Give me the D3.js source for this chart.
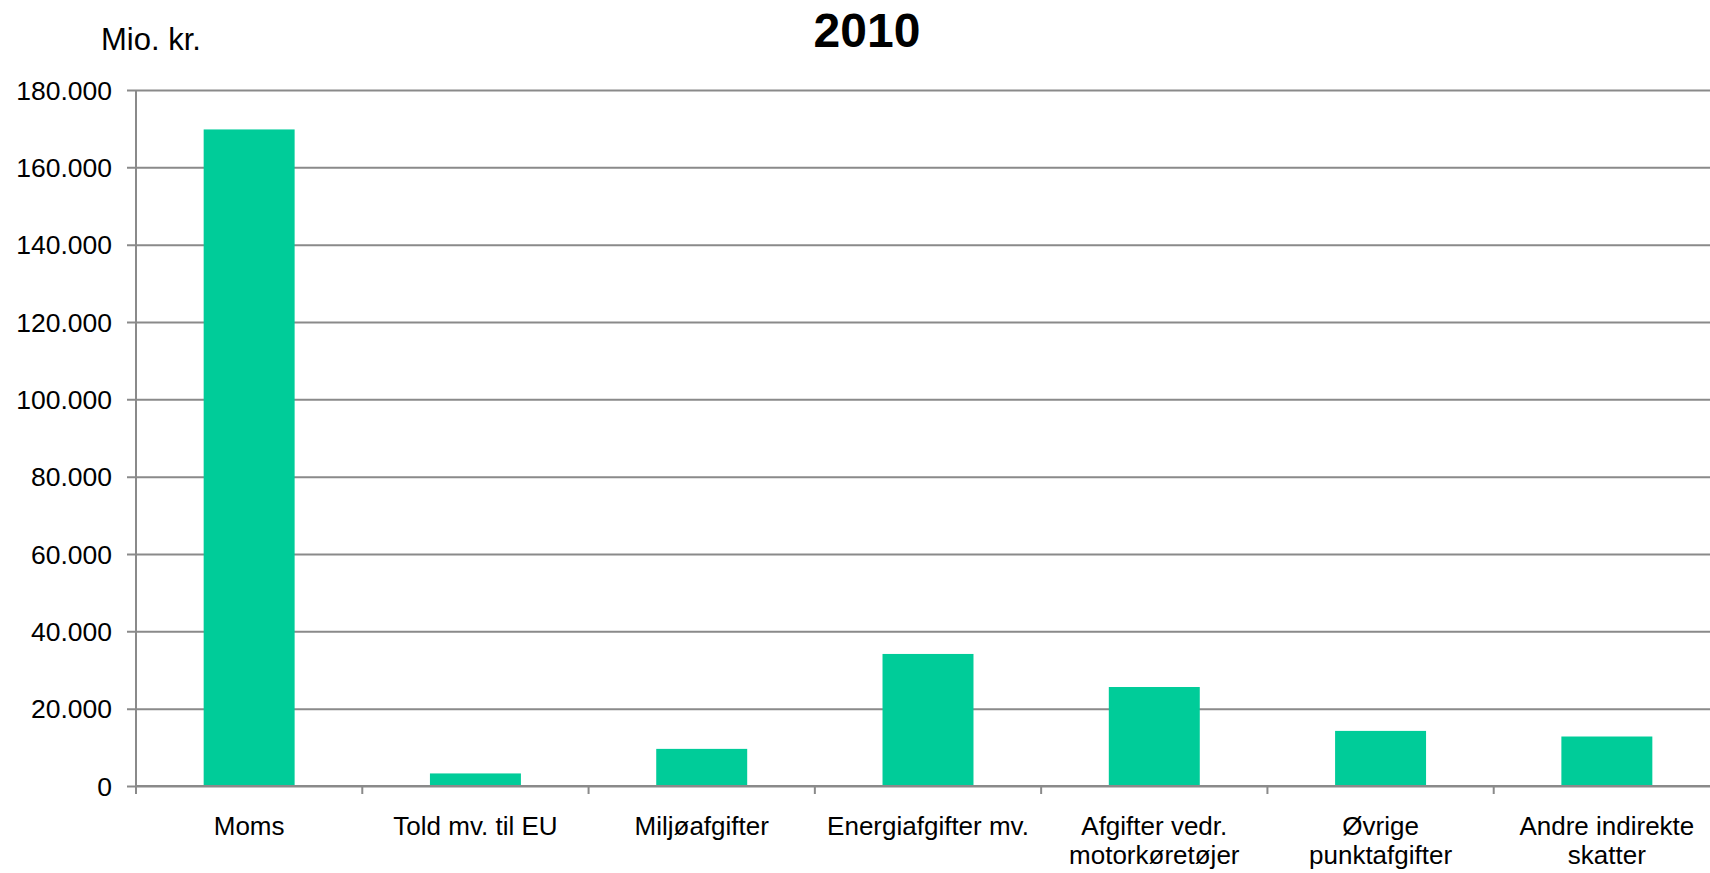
<!DOCTYPE html>
<html>
<head>
<meta charset="utf-8">
<script src="https://cdn.jsdelivr.net/npm/d3@7"></script>
<style>
  html, body { margin: 0; padding: 0; background: #fff; overflow: hidden; }
  svg { display: block; font-family: "Liberation Sans", Arial, sans-serif; }
</style>
</head>
<body>
<svg id="chart" width="1710" height="873"></svg>
<script>
// ---- data ----
const title = "2010";
const unitLabel = "Mio. kr.";
const categories = [
  "Moms",
  "Told mv. til EU",
  "Miljøafgifter",
  "Energiafgifter mv.",
  "Afgifter vedr.\nmotorkøretøjer",
  "Øvrige\npunktafgifter",
  "Andre indirekte\nskatter"
];
const values = [169800, 3250, 9600, 34150, 25600, 14250, 12800];
const yTicks = [0, 20000, 40000, 60000, 80000, 100000, 120000, 140000, 160000, 180000];

// ---- layout ----
const svg = d3.select("#chart");
const x0 = 136, x1 = 1720, yTop = 90, yBottom = 786;
const barColor = "#00cc99";
const gridColor = "#8a8a8a";

const locale = d3.formatLocale({ decimal: ",", thousands: ".", grouping: [3], currency: ["", ""] });
const fmt = locale.format(",d");

const x = d3.scaleBand().domain(categories).range([x0, x1]).paddingInner(0.598).paddingOuter(0.299);
const y = d3.scaleLinear().domain([0, 180000]).range([yBottom, yTop]);

// y axis with gridlines
const yAxis = svg.append("g")
  .attr("transform", `translate(${x0},0)`)
  .call(d3.axisLeft(y).tickValues(yTicks).tickFormat(fmt).tickSize(-(x1 - x0)).tickPadding(24));
yAxis.select(".domain").remove();
yAxis.selectAll(".tick line")
  .attr("x1", -9)
  .attr("stroke", gridColor)
  .attr("stroke-width", 2);
yAxis.selectAll(".tick text")
  .attr("fill", "#000")
  .style("font-size", "26.5px")
  .attr("dy", "0.35em");

// vertical axis line
svg.append("line")
  .attr("x1", x0).attr("x2", x0)
  .attr("y1", y(180000)).attr("y2", yBottom + 8)
  .attr("stroke", gridColor).attr("stroke-width", 2);

// category boundary ticks
const step = x.step();
const bounds = d3.range(categories.length + 1).map(i => x0 + i * step);
svg.append("g").selectAll("line").data(bounds).join("line")
  .attr("x1", d => d).attr("x2", d => d)
  .attr("y1", yBottom).attr("y2", yBottom + 8)
  .attr("stroke", gridColor).attr("stroke-width", 2);

// bars
svg.append("g").selectAll("rect").data(values).join("rect")
  .attr("x", (d, i) => x(categories[i]))
  .attr("width", x.bandwidth())
  .attr("y", d => y(d))
  .attr("height", d => y(0) - y(d))
  .attr("fill", barColor);

// zero baseline above bars
svg.append("line")
  .attr("x1", x0).attr("x2", x1)
  .attr("y1", yBottom).attr("y2", yBottom)
  .attr("stroke", gridColor).attr("stroke-width", 2);

// category labels
const labels = svg.append("g").selectAll("text").data(categories).join("text")
  .attr("x", d => x(d) + x.bandwidth() / 2)
  .attr("y", 835)
  .attr("text-anchor", "middle")
  .style("font-size", "26px")
  .attr("fill", "#000");
labels.each(function(d) {
  const lines = d.split("\n");
  const t = d3.select(this);
  lines.forEach((ln, i) => {
    t.append("tspan")
      .attr("x", x(d) + x.bandwidth() / 2)
      .attr("dy", i === 0 ? 0 : 29)
      .text(ln);
  });
});

// title
svg.append("text")
  .attr("x", 867).attr("y", 47)
  .attr("text-anchor", "middle")
  .style("font-size", "48px")
  .style("font-weight", "bold")
  .attr("fill", "#000")
  .text(title);

// unit label
svg.append("text")
  .attr("x", 101).attr("y", 50)
  .style("font-size", "31px")
  .attr("fill", "#000")
  .text(unitLabel);
</script>
</body>
</html>
